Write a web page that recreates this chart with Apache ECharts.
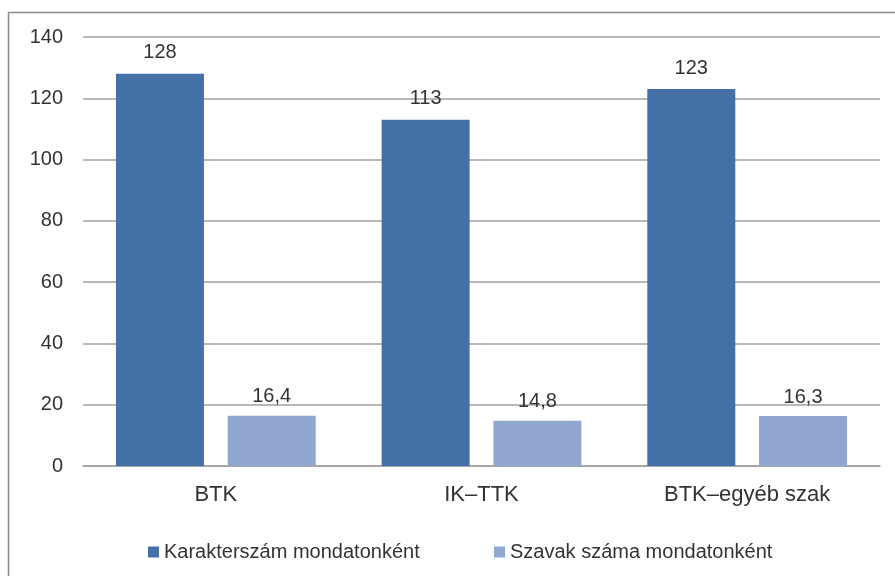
<!DOCTYPE html>
<html><head><meta charset="utf-8">
<script src="https://cdn.jsdelivr.net/npm/echarts@6/dist/echarts.min.js"></script>
<style>html,body{margin:0;padding:0;background:#fff}#c{width:895px;height:576px}</style>
</head><body><div id="c"></div>
<script>
const categories = ['BTK', 'IK–TTK', 'BTK–egyéb szak'];
const seriesNames = ['Karakterszám mondatonként', 'Szavak száma mondatonként'];
const charCounts = [128, 113, 123];
const wordCounts = [16.4, 14.8, 16.3];
const yTicks = [0, 20, 40, 60, 80, 100, 120, 140];

const fmt = p => String(p.value).replace('.', ',');
const font = 'Liberation Sans, Arial, sans-serif';
const legendBase = {
  top: 537, itemWidth: 11, itemHeight: 11, icon: 'rect',
  textStyle: {fontFamily: font, fontSize: 20, color: '#333'}
};
const chart = echarts.init(document.getElementById('c'));
chart.setOption({
  animation: false,
  graphic: [{type: 'rect', shape: {x: 8.5, y: 12.5, width: 900, height: 600}, style: {fill: 'none', stroke: '#8a8a8a', lineWidth: 1.5}}],
  grid: {left: 83, right: 15, top: 37, bottom: 110},
  legend: [
    Object.assign({}, legendBase, {left: 143, data: [seriesNames[0]]}),
    Object.assign({}, legendBase, {left: 489, data: [seriesNames[1]]})
  ],
  xAxis: {
    type: 'category', data: categories,
    axisLine: {lineStyle: {color: '#a0a0a0', width: 1.5}}, axisTick: {show: false},
    axisLabel: {fontFamily: font, fontSize: 22, color: '#333', margin: 18}
  },
  yAxis: {
    type: 'value', min: yTicks[0], max: yTicks[yTicks.length - 1], interval: 20,
    axisLine: {show: false}, axisTick: {show: false},
    axisLabel: {fontFamily: font, fontSize: 20, color: '#333', margin: 20, align: 'right'},
    splitLine: {lineStyle: {color: '#a0a0a0', width: 1.5}}
  },
  series: [
    {name: seriesNames[0], type: 'bar', data: charCounts, barWidth: 88, barGap: '27%',
     itemStyle: {color: '#4470A6'},
     label: {show: true, position: 'top', formatter: fmt, fontFamily: font, fontSize: 20, color: '#333', distance: 11}},
    {name: seriesNames[1], type: 'bar', data: wordCounts, barWidth: 88,
     itemStyle: {color: '#91A7D0'},
     label: {show: true, position: 'top', formatter: fmt, fontFamily: font, fontSize: 20, color: '#333', distance: 9}}
  ]
});
</script></body></html>
